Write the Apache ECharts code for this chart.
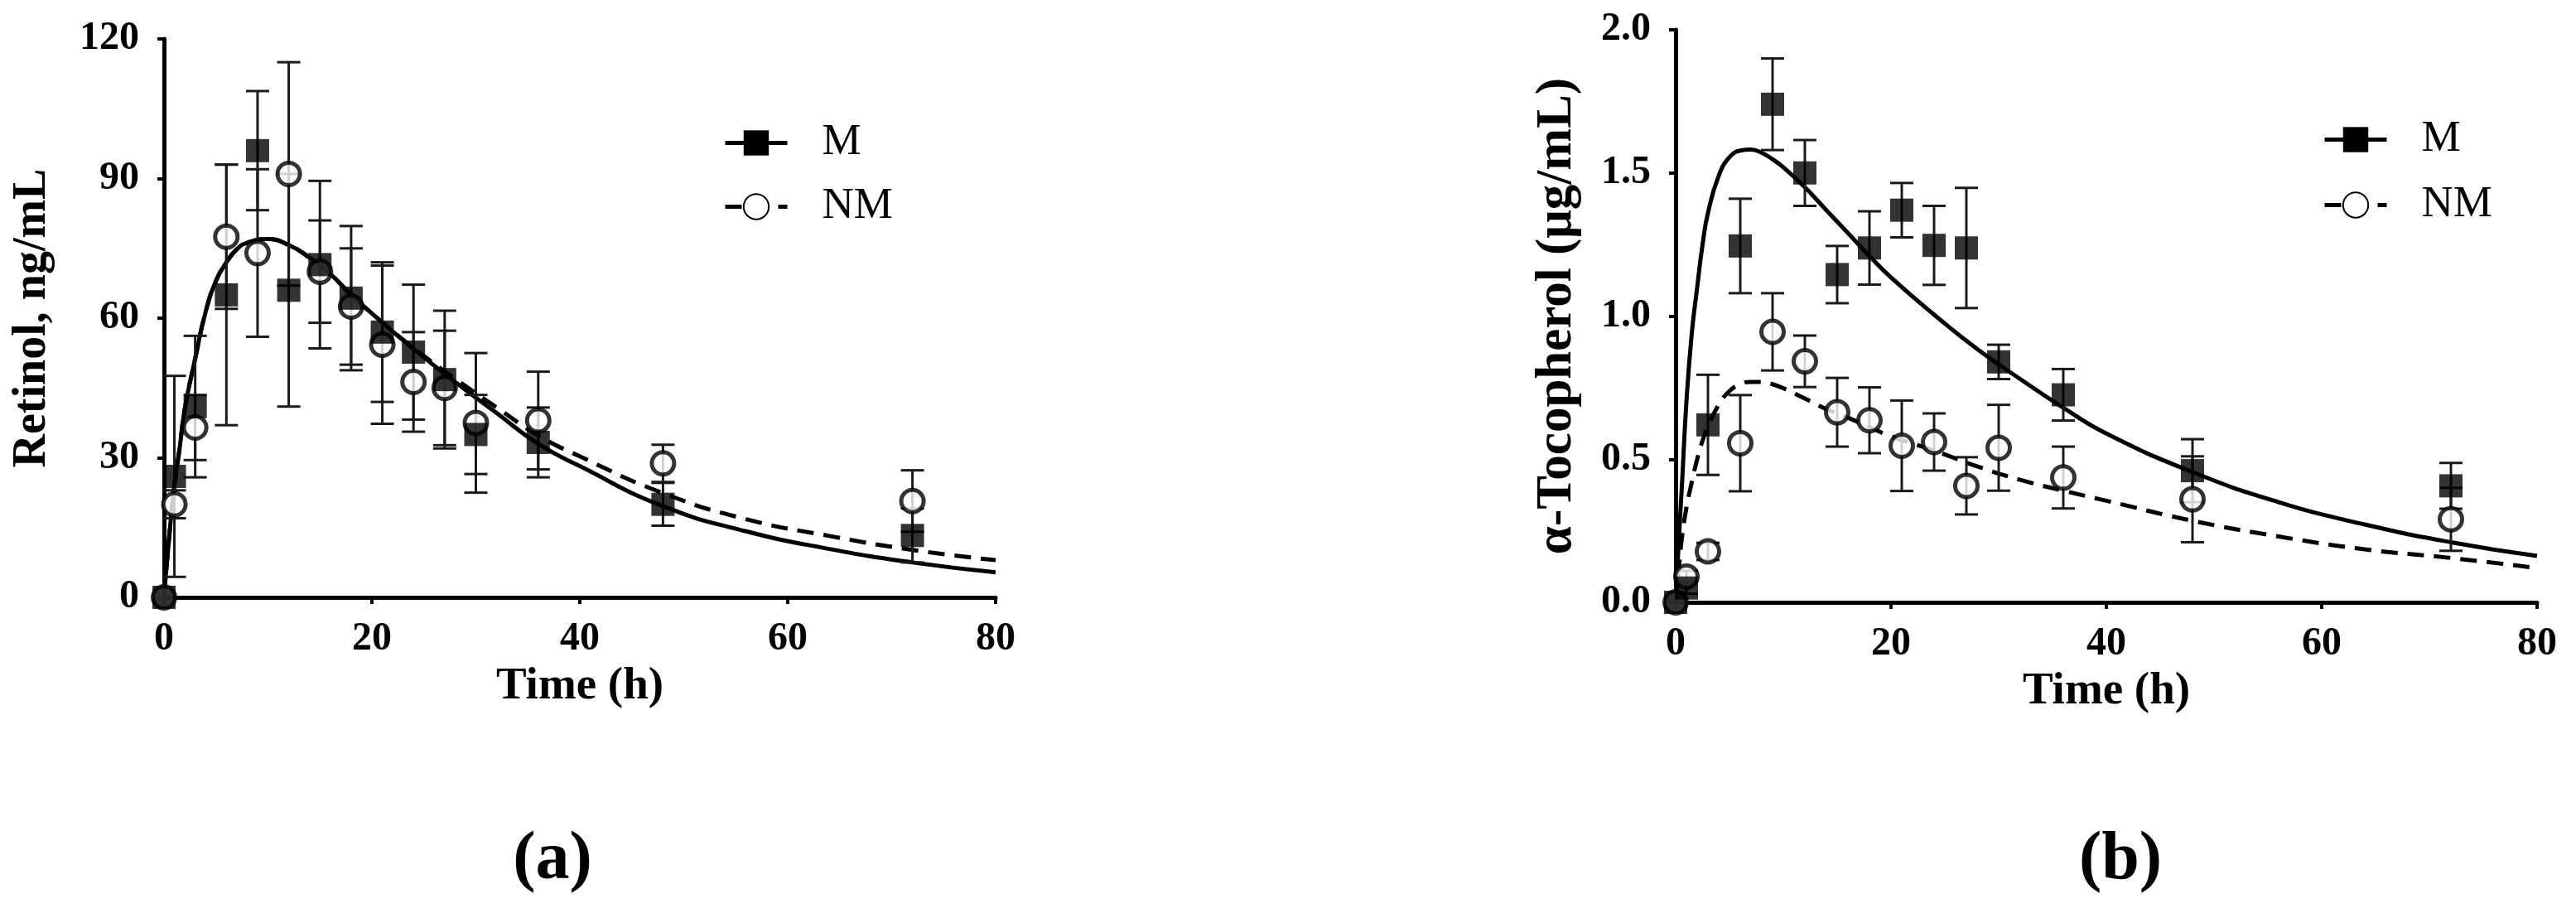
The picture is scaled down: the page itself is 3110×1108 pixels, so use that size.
<!DOCTYPE html>
<html>
<head>
<meta charset="utf-8">
<title>Retinol / α-Tocopherol</title>
<script src="https://cdn.jsdelivr.net/npm/echarts@6/dist/echarts.min.js"></script>
<style>
  html, body { margin: 0; padding: 0; background: #fff; }
  #chart { width: 3110px; height: 1108px; }
</style>
</head>
<body>
<div id="chart"></div>
<script>
// sampling times (h), same for both panels
const sampleTimes = [0, 1, 3, 6, 9, 12, 15, 18, 21, 24, 27, 30, 36, 48, 72]

// (a) retinol, ng/mL
const retinolM = [0, 26, 41, 65, 96, 66, 71.5, 64.3, 57, 52.7, 46.8, 35, 33.3, 20, 13.3]
const retinolMsd = [0, 21.6, 15.2, 28, 12.8, 25, 18, 15.5, 15, 14.5, 14.8, 8.5, 7.5, 4.6, 5.8]
const retinolNM = [0, 20, 36.5, 77.5, 74, 91, 70, 62.5, 54.3, 46.3, 45, 37.5, 38, 28.8, 20.7]
const retinolNMsd = [0, 3, 7, 15.5, 18, 24, 11, 12.5, 17, 10.7, 12.3, 15, 10.5, 4, 6.6]

// (b) alpha-tocopherol, ug/mL
const tocoM = [0, 0.05, 0.62, 1.245, 1.74, 1.5, 1.145, 1.238, 1.37, 1.247, 1.238, 0.84, 0.725, 0.46, 0.407]
const tocoMsd = [0, 0.02, 0.175, 0.165, 0.16, 0.115, 0.1, 0.128, 0.095, 0.138, 0.21, 0.06, 0.09, 0.11, 0.08]
const tocoNM = [0, 0.09, 0.178, 0.556, 0.945, 0.842, 0.664, 0.636, 0.547, 0.56, 0.407, 0.54, 0.436, 0.36, 0.29]
const tocoNMsd = [0, 0.02, 0.03, 0.168, 0.135, 0.09, 0.12, 0.115, 0.158, 0.1, 0.1, 0.15, 0.108, 0.15, 0.11]

// fitted curves
const fitTimeA = [0, 0.5, 1, 1.5, 2, 3, 4, 5, 6, 7, 8, 10, 12, 14, 16, 18, 20, 24, 28, 32, 36, 40, 48, 56, 64, 72, 80]
const fitRetinolM = [0, 13, 24, 32, 40.5, 51.3, 61.3, 68, 72, 74.8, 76.2, 77, 75.7, 73, 69.5, 65, 61, 53.4, 46.3, 39.6, 33, 28.2, 19.6, 14.2, 10.4, 7.5, 5.4]
const fitRetinolNM = [0, 13, 24, 32, 40.5, 51.3, 61.3, 68, 72, 74.8, 76.2, 77, 75.7, 73, 69.5, 65, 61, 53.6, 47, 40.8, 34.8, 30.3, 22.4, 16.8, 13.2, 10.2, 8.0]

const fitTimeB = [0, 0.3, 0.6, 1, 1.5, 2, 2.5, 3, 4, 5, 6, 7, 8, 9, 10, 12, 14, 16, 18, 20, 24, 28, 32, 36, 40, 48, 56, 64, 72, 80]
const fitTocoM = [0, 0.22, 0.42, 0.7, 0.94, 1.1, 1.25, 1.36, 1.49, 1.555, 1.578, 1.582, 1.57, 1.548, 1.52, 1.45, 1.37, 1.29, 1.21, 1.135, 1.005, 0.885, 0.78, 0.68, 0.59, 0.455, 0.35, 0.272, 0.21, 0.162]
const fitTocoNM = [0, 0.12, 0.23, 0.33, 0.42, 0.5, 0.565, 0.615, 0.69, 0.738, 0.762, 0.77, 0.77, 0.762, 0.748, 0.712, 0.675, 0.645, 0.612, 0.58, 0.53, 0.475, 0.428, 0.39, 0.355, 0.285, 0.23, 0.185, 0.155, 0.12]

const xTicks = [0, 20, 40, 60, 80]

const FONT = 'Liberation Serif'
const INK = '#000'

function pairs (xs, ys) {
  return xs.map((x, i) => [x, ys[i]])
}

function errorData (means, sds) {
  return sampleTimes
    .map((t, i) => [t, means[i] - sds[i], means[i] + sds[i]])
    .filter((d, i) => sds[i] > 0)
}

function errorBarItem (params, api) {
  const x = api.value(0)
  const low = api.coord([x, api.value(1)])
  const high = api.coord([x, api.value(2)])
  const half = 14
  const style = { stroke: '#1a1a1a', lineWidth: 3 }
  return {
    type: 'group',
    children: [
      { type: 'line', shape: { x1: low[0], y1: low[1], x2: high[0], y2: high[1] }, style: style },
      { type: 'line', shape: { x1: high[0] - half, y1: high[1], x2: high[0] + half, y2: high[1] }, style: style },
      { type: 'line', shape: { x1: low[0] - half, y1: low[1], x2: low[0] + half, y2: low[1] }, style: style }
    ]
  }
}

function makeXAxis (gridIndex) {
  return {
    gridIndex: gridIndex,
    type: 'value',
    min: xTicks[0],
    max: xTicks[xTicks.length - 1],
    interval: xTicks[1] - xTicks[0],
    name: 'Time (h)',
    nameLocation: 'middle',
    nameGap: 80,
    nameTextStyle: { fontFamily: FONT, fontSize: 55, fontWeight: 'bold', color: INK },
    axisLine: { onZero: false, lineStyle: { color: INK, width: 5 } },
    axisTick: { length: 8, lineStyle: { color: INK, width: 4 } },
    axisLabel: { fontFamily: FONT, fontSize: 48, fontWeight: 'bold', color: INK, margin: 27 },
    splitLine: { show: false }
  }
}

function makeYAxis (gridIndex, name, max, interval, nameGap, nameSize, digits) {
  return {
    gridIndex: gridIndex,
    type: 'value',
    min: 0,
    max: max,
    interval: interval,
    name: name,
    nameLocation: 'middle',
    nameGap: nameGap,
    nameTextStyle: { fontFamily: FONT, fontSize: nameSize, fontWeight: 'bold', color: INK },
    axisLine: { show: true, lineStyle: { color: INK, width: 5 } },
    axisTick: { show: true, length: 8, lineStyle: { color: INK, width: 4 } },
    axisLabel: {
      fontFamily: FONT, fontSize: 48, fontWeight: 'bold', color: INK, margin: 30,
      formatter: v => v.toFixed(digits)
    },
    splitLine: { show: false }
  }
}

function curve (name, idx, xs, ys, dashed) {
  return {
    name: name,
    type: 'line',
    xAxisIndex: idx,
    yAxisIndex: idx,
    data: pairs(xs, ys),
    smooth: true,
    showSymbol: false,
    symbol: dashed ? 'circle' : 'rect',
    symbolSize: 28,
    itemStyle: dashed
      ? { color: '#fff', borderColor: INK, borderWidth: 5 }
      : { color: INK },
    lineStyle: { color: INK, width: 5, type: dashed ? [20, 12] : 'solid' },
    z: 2,
    silent: true
  }
}

function bars (idx, means, sds) {
  return {
    type: 'custom',
    xAxisIndex: idx,
    yAxisIndex: idx,
    renderItem: errorBarItem,
    encode: { x: 0, y: [1, 2] },
    data: errorData(means, sds),
    clip: false,
    z: 3,
    silent: true
  }
}

function points (name, idx, means, open) {
  return {
    name: name,
    type: 'scatter',
    xAxisIndex: idx,
    yAxisIndex: idx,
    data: pairs(sampleTimes, means),
    symbol: open ? 'circle' : 'rect',
    symbolSize: open ? 27 : 28,
    itemStyle: open
      ? { color: '#fff', borderColor: INK, borderWidth: 5 }
      : { color: INK },
    clip: false,
    z: open ? 4 : 5,
    silent: true
  }
}

function legendAt (left, top, gap) {
  return {
    data: ['M', 'NM'],
    orient: 'vertical',
    left: left,
    top: top,
    itemWidth: 75,
    itemHeight: 38,
    itemGap: gap,
    selectedMode: false,
    lineStyle: { width: 5 },
    textStyle: { fontFamily: FONT, fontSize: 53, color: INK, padding: [0, 0, 0, 37] }
  }
}

function panelLabel (letter, center) {
  return {
    text: '{p|(}{b|' + letter + '}{p|)}',
    left: center,
    top: 993,
    textAlign: 'center',
    textStyle: {
      rich: {
        p: { fontFamily: FONT, fontSize: 82, color: INK },
        b: { fontFamily: FONT, fontSize: 82, fontWeight: 'bold', color: INK }
      }
    }
  }
}

const chart = echarts.init(document.getElementById('chart'))

chart.setOption({
  animation: false,
  backgroundColor: '#fff',
  title: [panelLabel('a', 662), panelLabel('b', 2555)],
  legend: [legendAt(868, 141, 24), legendAt(2799, 137, 26)],
  grid: [
    { left: 198, top: 47, width: 1004, height: 674 },
    { left: 2023, top: 36, width: 1040, height: 691 }
  ],
  xAxis: [makeXAxis(0), makeXAxis(1)],
  yAxis: [
    makeYAxis(0, 'Retinol, ng/mL', 120, 30, 130, 56, 0),
    makeYAxis(1, 'α-Tocopherol (μg/mL)', 2, 0.5, 112, 61, 1)
  ],
  series: [
    curve('M', 0, fitTimeA, fitRetinolM, false),
    curve('NM', 0, fitTimeA, fitRetinolNM, true),
    bars(0, retinolM, retinolMsd),
    bars(0, retinolNM, retinolNMsd),
    points('NM', 0, retinolNM, true),
    points('M', 0, retinolM, false),

    curve('M', 1, fitTimeB, fitTocoM, false),
    curve('NM', 1, fitTimeB, fitTocoNM, true),
    bars(1, tocoM, tocoMsd),
    bars(1, tocoNM, tocoNMsd),
    points('NM', 1, tocoNM, true),
    points('M', 1, tocoM, false)
  ]
})
</script>
</body>
</html>
